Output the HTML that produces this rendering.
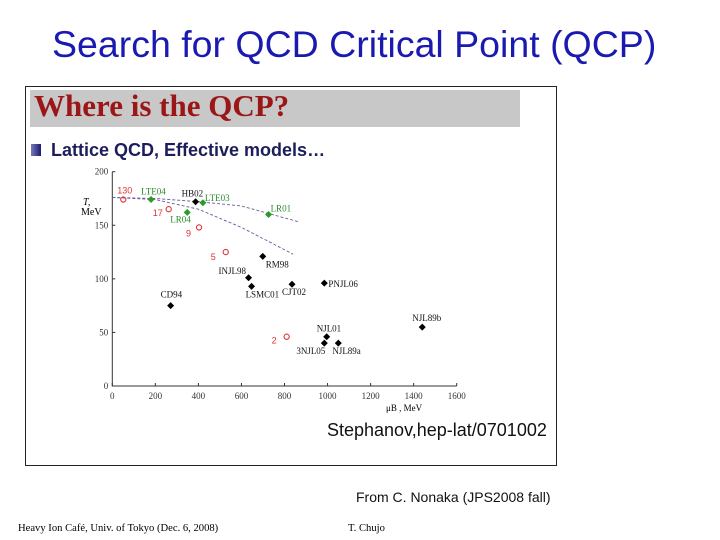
<!DOCTYPE html>
<html><head><meta charset="utf-8"><style>
body{margin:0;width:720px;height:540px;background:#fff;position:relative;overflow:hidden;font-family:"Liberation Sans",sans-serif}
.abs{position:absolute;white-space:nowrap}
</style></head><body>
<div class="abs" style="left:52px;top:23px;font-size:37.5px;color:#1a1ab0;">Search for QCD Critical Point (QCP)</div>
<div class="abs" style="left:25px;top:86px;width:530px;height:378px;border:1px solid #222;"></div>
<div class="abs" style="left:30px;top:90px;width:490px;height:37px;background:#c8c8c8;"></div>
<div class="abs" style="left:34px;top:88px;font-family:'Liberation Serif',serif;font-size:31px;font-weight:bold;color:#9b1616;">Where is the QCP?</div>
<div class="abs" style="left:31px;top:144px;width:10px;height:12px;background:linear-gradient(90deg,#7a7ab8,#1a1a70);"></div>
<div class="abs" style="left:51px;top:140px;font-size:18px;font-weight:bold;color:#1d1d5c;">Lattice QCD, Effective models…</div>
<svg class="abs" style="left:0;top:0" width="720" height="540" id="chart"></svg>
<div class="abs" style="left:327px;top:420px;font-size:18px;color:#111;">Stephanov,hep-lat/0701002</div>
<div class="abs" style="left:356px;top:489px;font-size:14px;color:#111;">From C. Nonaka (JPS2008 fall)</div>
<div class="abs" style="left:18px;top:523px;font-family:'Liberation Serif',serif;font-size:10.6px;">Heavy Ion Café, Univ. of Tokyo (Dec. 6, 2008)</div>
<div class="abs" style="left:348px;top:523px;font-family:'Liberation Serif',serif;font-size:10.6px;">T. Chujo</div>
<script>
const xTicks=[0,200,400,600,800,1000,1200,1400,1600];
const yTicks=[0,50,100,150,200];
const modelNames=["HB02","CD94","INJL98","LSMC01","RM98","CJT02","PNJL06","NJL01","3NJL05","NJL89a","NJL89b"];
const modelMu=[387,271,633,647,699,835,985,996,985,1050,1440];
const modelT=[172,75,101,93,121,95,96,46,40,40,55];
const latticeNames=["LTE04","LTE03","LR04","LR01"];
const latticeMu=[180,421,348,726];
const latticeT=[174,171,162,160];
const ratioNames=["130","17","9","5","2"];
const ratioMu=[51,262,403,527,810];
const ratioT=[174,165,148,125,46];
const upperMu=[0,200,400,600,870];
const upperT=[176,175,172,168,153];
const lowerMu=[0,200,400,600,840];
const lowerT=[176,174,165,148,123];
const X=v=>112.3+v*(456.7-112.3)/1600;
const Y=v=>386-v*(386-171.7)/200;
const svg=document.getElementById('chart');
const NS='http://www.w3.org/2000/svg';
function mk(t,a,p){const e=document.createElementNS(NS,t);for(const k in a)e.setAttribute(k,a[k]);(p||svg).appendChild(e);return e;}
const ax=mk('path',{d:`M${X(0)},${Y(200)}V${Y(0)}H${X(1600)}`,stroke:'#333',fill:'none','stroke-width':1});


const sf="font-family:'Liberation Serif',serif;font-size:9px";
xTicks.forEach(t=>{
 mk('line',{x1:X(t),x2:X(t),y1:Y(0),y2:Y(0)-3,stroke:'#333'});
 const tx=mk('text',{x:X(t),y:Y(0)+13,'text-anchor':'middle',style:sf,fill:'#333'});tx.textContent=t;
 
 
});
yTicks.forEach(t=>{
 mk('line',{x1:X(0),x2:X(0)+3,y1:Y(t),y2:Y(t),stroke:'#333'});
 const tx=mk('text',{x:X(0)-4,y:Y(t)+3,'text-anchor':'end',style:sf,fill:'#333'});tx.textContent=t;
 
 
});
let t1=mk('text',{x:83,y:205,style:"font-family:'Liberation Serif',serif;font-size:10px;font-style:italic"});t1.textContent='T,';


let t2=mk('text',{x:81,y:215,style:"font-family:'Liberation Serif',serif;font-size:10px"});t2.textContent='MeV';


let t3=mk('text',{x:386,y:411,style:"font-family:'Liberation Serif',serif;font-size:9px"});t3.textContent='μB , MeV';


function curve(m,t,name){const l=mk('polyline',{points:m.map((v,i)=>X(v)+','+Y(t[i])).join(' '),fill:'none',stroke:'#6a5a9a','stroke-width':0.9,'stroke-dasharray':'3,2'});
 
 }
curve(upperMu,upperT,'upper-dashed-curve');
curve(lowerMu,lowerT,'lower-dashed-curve');
const offs={HB02:[-14,-5],CD94:[-10,-8],INJL98:[-30,-4],LSMC01:[-6,11],RM98:[3,11],CJT02:[-10,11],PNJL06:[4,4],NJL01:[-10,-5],'3NJL05':[-28,11],NJL89a:[-6,11],NJL89b:[-10,-6]};
modelNames.forEach((n,i)=>{const x=X(modelMu[i]),y=Y(modelT[i]);
 const d=mk('path',{d:`M${x},${y-3.5}L${x+3.5},${y}L${x},${y+3.5}L${x-3.5},${y}Z`,fill:'#000'});
 
 
 const o=offs[n];const tx=mk('text',{x:x+o[0],y:y+o[1],style:sf,fill:'#111'});tx.textContent=n;
 
 });
const loffs={LTE04:[-10,-5],LTE03:[2,-2],LR04:[-17,10],LR01:[2,-3]};
latticeNames.forEach((n,i)=>{const x=X(latticeMu[i]),y=Y(latticeT[i]);
 const d=mk('path',{d:`M${x},${y-3.5}L${x+3.5},${y}L${x},${y+3.5}L${x-3.5},${y}Z`,fill:'#2a9a2a'});
 
 
 const o=loffs[n];const tx=mk('text',{x:x+o[0],y:y+o[1],style:sf,fill:'#2a8a2a'});tx.textContent=n;
 
 });
const roffs={'130':[-6,-6],'17':[-16,7],'9':[-13,9],'5':[-15,8],'2':[-15,7]};
ratioNames.forEach((n,i)=>{const x=X(ratioMu[i]),y=Y(ratioT[i]);
 const c=mk('circle',{cx:x,cy:y,r:2.6,fill:'none',stroke:'#d33','stroke-width':1.1});
 
 
 const o=roffs[n];const tx=mk('text',{x:x+o[0],y:y+o[1],style:"font-family:'Liberation Sans',sans-serif;font-size:9px",fill:'#d33'});tx.textContent=n;
 
 });
</script>
</body></html>
